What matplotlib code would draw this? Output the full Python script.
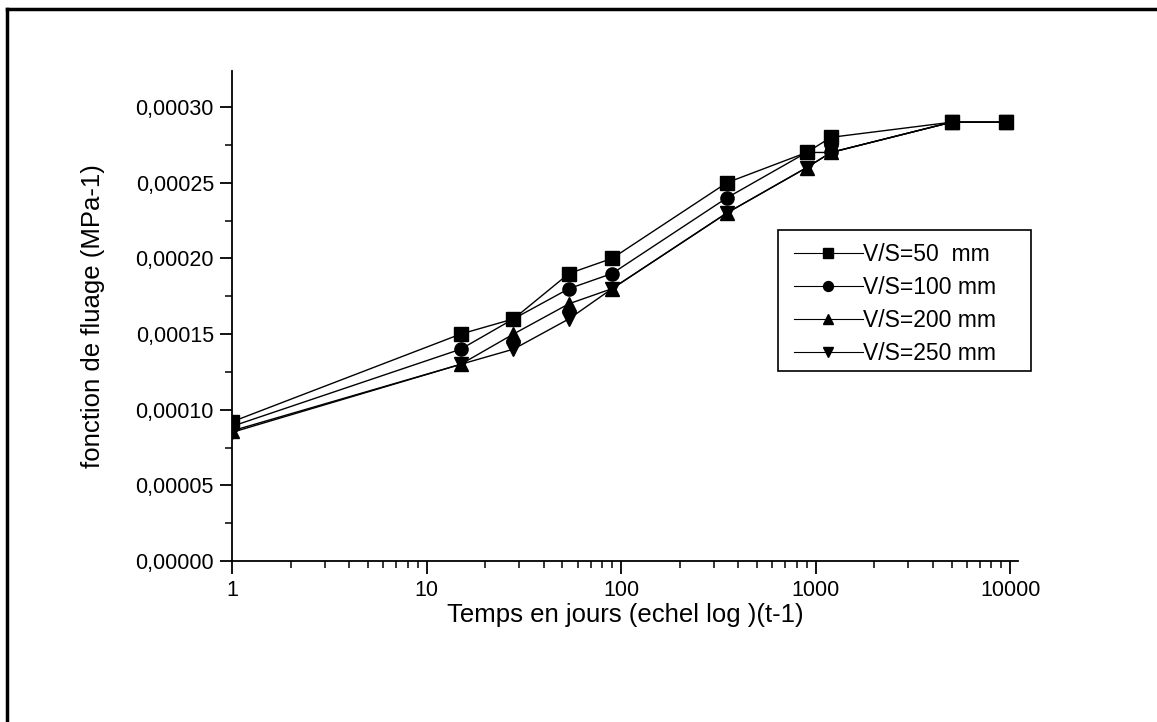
import matplotlib
matplotlib.use('Agg')
import matplotlib.pyplot as plt
from matplotlib.lines import Line2D
from matplotlib.patches import Rectangle
from matplotlib.ticker import FuncFormatter, MultipleLocator, LogLocator, NullFormatter

plt.rcParams['font.family'] = ['Liberation Sans', 'DejaVu Sans']

# temps en jours
temps = [1, 15, 28, 54, 90, 350, 900, 1200, 5000, 9500]

# fonction de fluage (MPa-1)
vs50 = [9.2e-5, 1.5e-4, 1.6e-4, 1.9e-4, 2.0e-4, 2.5e-4, 2.7e-4, 2.8e-4, 2.9e-4, 2.9e-4]
vs100 = [8.9e-5, 1.4e-4, 1.6e-4, 1.8e-4, 1.9e-4, 2.4e-4, 2.7e-4, 2.7e-4, 2.9e-4, 2.9e-4]
vs200 = [8.6e-5, 1.3e-4, 1.5e-4, 1.7e-4, 1.8e-4, 2.3e-4, 2.6e-4, 2.7e-4, 2.9e-4, 2.9e-4]
vs250 = [8.5e-5, 1.3e-4, 1.4e-4, 1.6e-4, 1.8e-4, 2.3e-4, 2.6e-4, 2.7e-4, 2.9e-4, 2.9e-4]

labels = ['V/S=50  mm', 'V/S=100 mm', 'V/S=200 mm', 'V/S=250 mm']
markers = ['s', 'o', '^', 'v']

fig = plt.figure(figsize=(11.57, 7.22), dpi=100)
ax = fig.add_axes([0.2005, 0.223, 0.6795, 0.679])

for serie, lab, m in zip([vs50, vs100, vs200, vs250], labels, markers):
    ax.plot(temps, serie, color='black', lw=1, marker=m, markersize=9.5, label=lab)

ax.set_xscale('log')
ax.set_xlim(1, 11000)
ax.set_ylim(0, 0.000324)

ax.yaxis.set_major_locator(MultipleLocator(0.00005))
ax.yaxis.set_minor_locator(MultipleLocator(0.000025))
ax.yaxis.set_major_formatter(FuncFormatter(lambda v, p: f"{v:.5f}".replace('.', ',')))
ax.xaxis.set_major_locator(LogLocator(base=10, numticks=10))
ax.xaxis.set_minor_locator(LogLocator(base=10, subs=range(2, 10), numticks=10))
ax.xaxis.set_major_formatter(FuncFormatter(lambda v, p: f"{int(round(v))}"))
ax.xaxis.set_minor_formatter(NullFormatter())

for s in ['top', 'right']:
    ax.spines[s].set_visible(False)
for s in ['left', 'bottom']:
    ax.spines[s].set_linewidth(1.3)

ax.tick_params(which='major', direction='out', length=9, width=1.3, labelsize=15.5)
ax.tick_params(axis='x', which='major', pad=5)
ax.tick_params(axis='y', which='major', pad=4)
ax.tick_params(which='minor', direction='out', length=5, width=1.1)

ax.set_xlabel('Temps en jours (echel log )(t-1)', fontsize=18.5, labelpad=1)
ax.set_ylabel('fonction de fluage (MPa-1)', fontsize=18.5, labelpad=22)

# cadre de la légende
ax.add_patch(Rectangle((0.6947, 0.3878), 0.3218, 0.2877, transform=ax.transAxes,
                       fill=False, edgecolor='black', lw=1.2, clip_on=False, zorder=5))
leg = ax.legend(loc='upper left', bbox_to_anchor=(0.715, 0.648), fontsize=16.5,
                frameon=False, handlelength=3.0, handletextpad=0.0, markerscale=0.75,
                borderpad=0, labelspacing=0.43, borderaxespad=0)
for line in leg.get_lines():
    line.set_linewidth(0.8)

# cadre
fig.add_artist(Line2D([7 / 1157, 7 / 1157], [0, 1 - 9 / 722], color='black', lw=2.5))
fig.add_artist(Line2D([7 / 1157, 1], [1 - 9 / 722, 1 - 9 / 722], color='black', lw=2.5))

fig.savefig('out.png', dpi=100)
